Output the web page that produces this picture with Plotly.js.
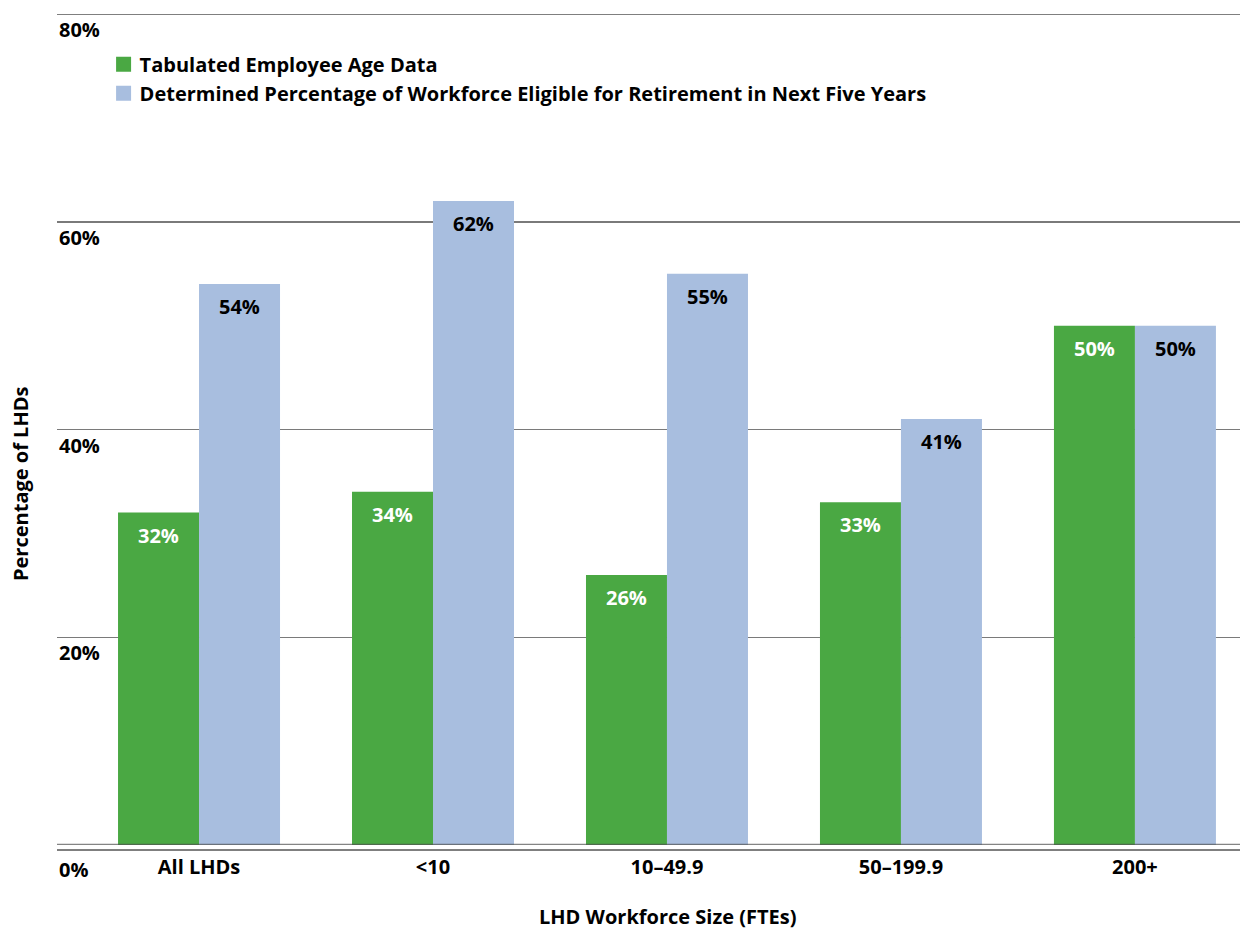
<!DOCTYPE html>
<html>
<head>
<meta charset="utf-8">
<script src="https://cdn.plot.ly/plotly-3.0.1.min.js"></script>
<style>
  html, body { margin: 0; padding: 0; background: #ffffff; }
  #chart { width: 1241px; height: 929px; }
</style>
</head>
<body>
<div id="chart"></div>
<script>
// Workforce size groups and the share of LHDs for each measure
const categories = ['All LHDs', '<10', '10\u201349.9', '50\u2013199.9', '200+'];
const tabulatedAge = [32, 34, 26, 33, 50];
const retirementEligible = [54, 62, 55, 41, 50];

const seriesNames = [
  'Tabulated Employee Age Data',
  'Determined Percentage of Workforce Eligible for Retirement in Next Five Years'
];

const yTickVals = [0, 20, 40, 60, 80];
const yTickText = ['0%', '20%', '40%', '60%', '80%'];

const FONT = 'Open Sans, Lato, DejaVu Sans, sans-serif';
const GREEN = '#4aa843';
const BLUE = '#a8bedf';
const GRID = '#7a7a7a';
const BAR_HALF = 40.5; // half of one bar's pixel width within a group

const traces = [
  {
    type: 'bar', name: '<b>' + seriesNames[0] + '</b>', x: categories, y: tabulatedAge,
    marker: { color: GREEN, line: { width: 0 } }, hoverinfo: 'x+y'
  },
  {
    type: 'bar', name: '<b>' + seriesNames[1] + '</b>', x: categories, y: retirementEligible,
    marker: { color: BLUE, line: { width: 0 } }, hoverinfo: 'x+y'
  }
];

const annotations = [];

// Value labels inside the top of each bar
categories.forEach((c, i) => {
  annotations.push({
    xref: 'x', yref: 'y', x: c, y: tabulatedAge[i], xshift: -BAR_HALF, yshift: -7,
    text: '<b>' + tabulatedAge[i] + '%</b>', showarrow: false, yanchor: 'top',
    font: { family: FONT, size: 20, color: '#ffffff' }
  });
  annotations.push({
    xref: 'x', yref: 'y', x: c, y: retirementEligible[i], xshift: BAR_HALF, yshift: -7,
    text: '<b>' + retirementEligible[i] + '%</b>', showarrow: false, yanchor: 'top',
    font: { family: FONT, size: 20, color: '#000000' }
  });
});

// Y tick labels sit just under their gridlines at the left edge
yTickVals.forEach((v, i) => {
  annotations.push({
    xref: 'paper', yref: 'y', x: 0, y: v, xanchor: 'left', yanchor: 'top',
    yshift: v === 0 ? -9 : 0,
    text: '<b>' + yTickText[i] + '</b>', showarrow: false,
    font: { family: FONT, size: 20, color: '#000000' }
  });
});

// Axis titles
annotations.push({
  xref: 'paper', yref: 'paper', x: (667 - 57) / 1183, y: 0, yshift: -71,
  text: '<b>LHD Workforce Size (FTEs)</b>', showarrow: false, yanchor: 'middle',
  font: { family: FONT, size: 20, color: '#000000' }
});
annotations.push({
  xref: 'paper', yref: 'paper', x: 0, xshift: -37, y: (845 - 484) / 831,
  text: '<b>Percentage of LHDs</b>', showarrow: false, textangle: -90,
  xanchor: 'center', yanchor: 'middle',
  font: { family: FONT, size: 20, color: '#000000' }
});

const layout = {
  width: 1241, height: 929,
  margin: { l: 57, r: 1, t: 14, b: 84, pad: 0 },
  paper_bgcolor: '#ffffff', plot_bgcolor: '#ffffff',
  barmode: 'group', bargap: 0.3077, bargroupgap: 0,
  showlegend: true,
  legend: {
    x: 0.036, y: 0.963, xanchor: 'left', yanchor: 'top',
    bgcolor: 'rgba(0,0,0,0)', borderwidth: 0,
    font: { family: FONT, size: 20, color: '#000000' },
    tracegroupgap: 0, itemwidth: 30, traceorder: 'normal'
  },
  font: { family: FONT, color: '#000000' },
  xaxis: {
    type: 'category', range: [-0.607, 4.449],
    showgrid: false, zeroline: false, showline: false, ticks: '',
    tickfont: { family: FONT, size: 20, color: '#000000', weight: 'bold' },
    ticklabelstandoff: 8, fixedrange: true
  },
  yaxis: {
    range: [0, 80], tickvals: yTickVals, showticklabels: false,
    showgrid: true, gridcolor: GRID, gridwidth: 1.5,
    zeroline: false, showline: false, ticks: '', fixedrange: true
  },
  shapes: [
    // top gridline at the upper edge of the plot
    { type: 'line', xref: 'paper', yref: 'y', x0: 0, x1: 1, y0: 80, y1: 80,
      line: { color: '#555555', width: 1.5 }, layer: 'above' },
    // grey baseline drawn over the bar bottoms
    { type: 'line', xref: 'paper', yref: 'y', x0: 0, x1: 1, y0: 0, y1: 0,
      line: { color: 'rgba(80,80,80,0.7)', width: 2.5 }, layer: 'above' },
    // thin black rule just below the baseline
    { type: 'line', xref: 'paper', yref: 'paper', ysizemode: 'pixel', yanchor: 0,
      x0: 0, x1: 1, y0: -5, y1: -5,
      line: { color: '#000000', width: 1 }, layer: 'above' }
  ],
  annotations: annotations
};

Plotly.newPlot('chart', traces, layout, { displayModeBar: false, staticPlot: true })
  .then(gd => {
    // slightly larger legend swatches, set closer to their labels
    gd.querySelectorAll('.legend .legendpoints path').forEach(p => {
      p.setAttribute('d', 'M7.5,7.5H-7.5V-7.5H7.5Z');
      p.setAttribute('transform', 'translate(24,0)');
    });
  });
</script>
</body>
</html>
